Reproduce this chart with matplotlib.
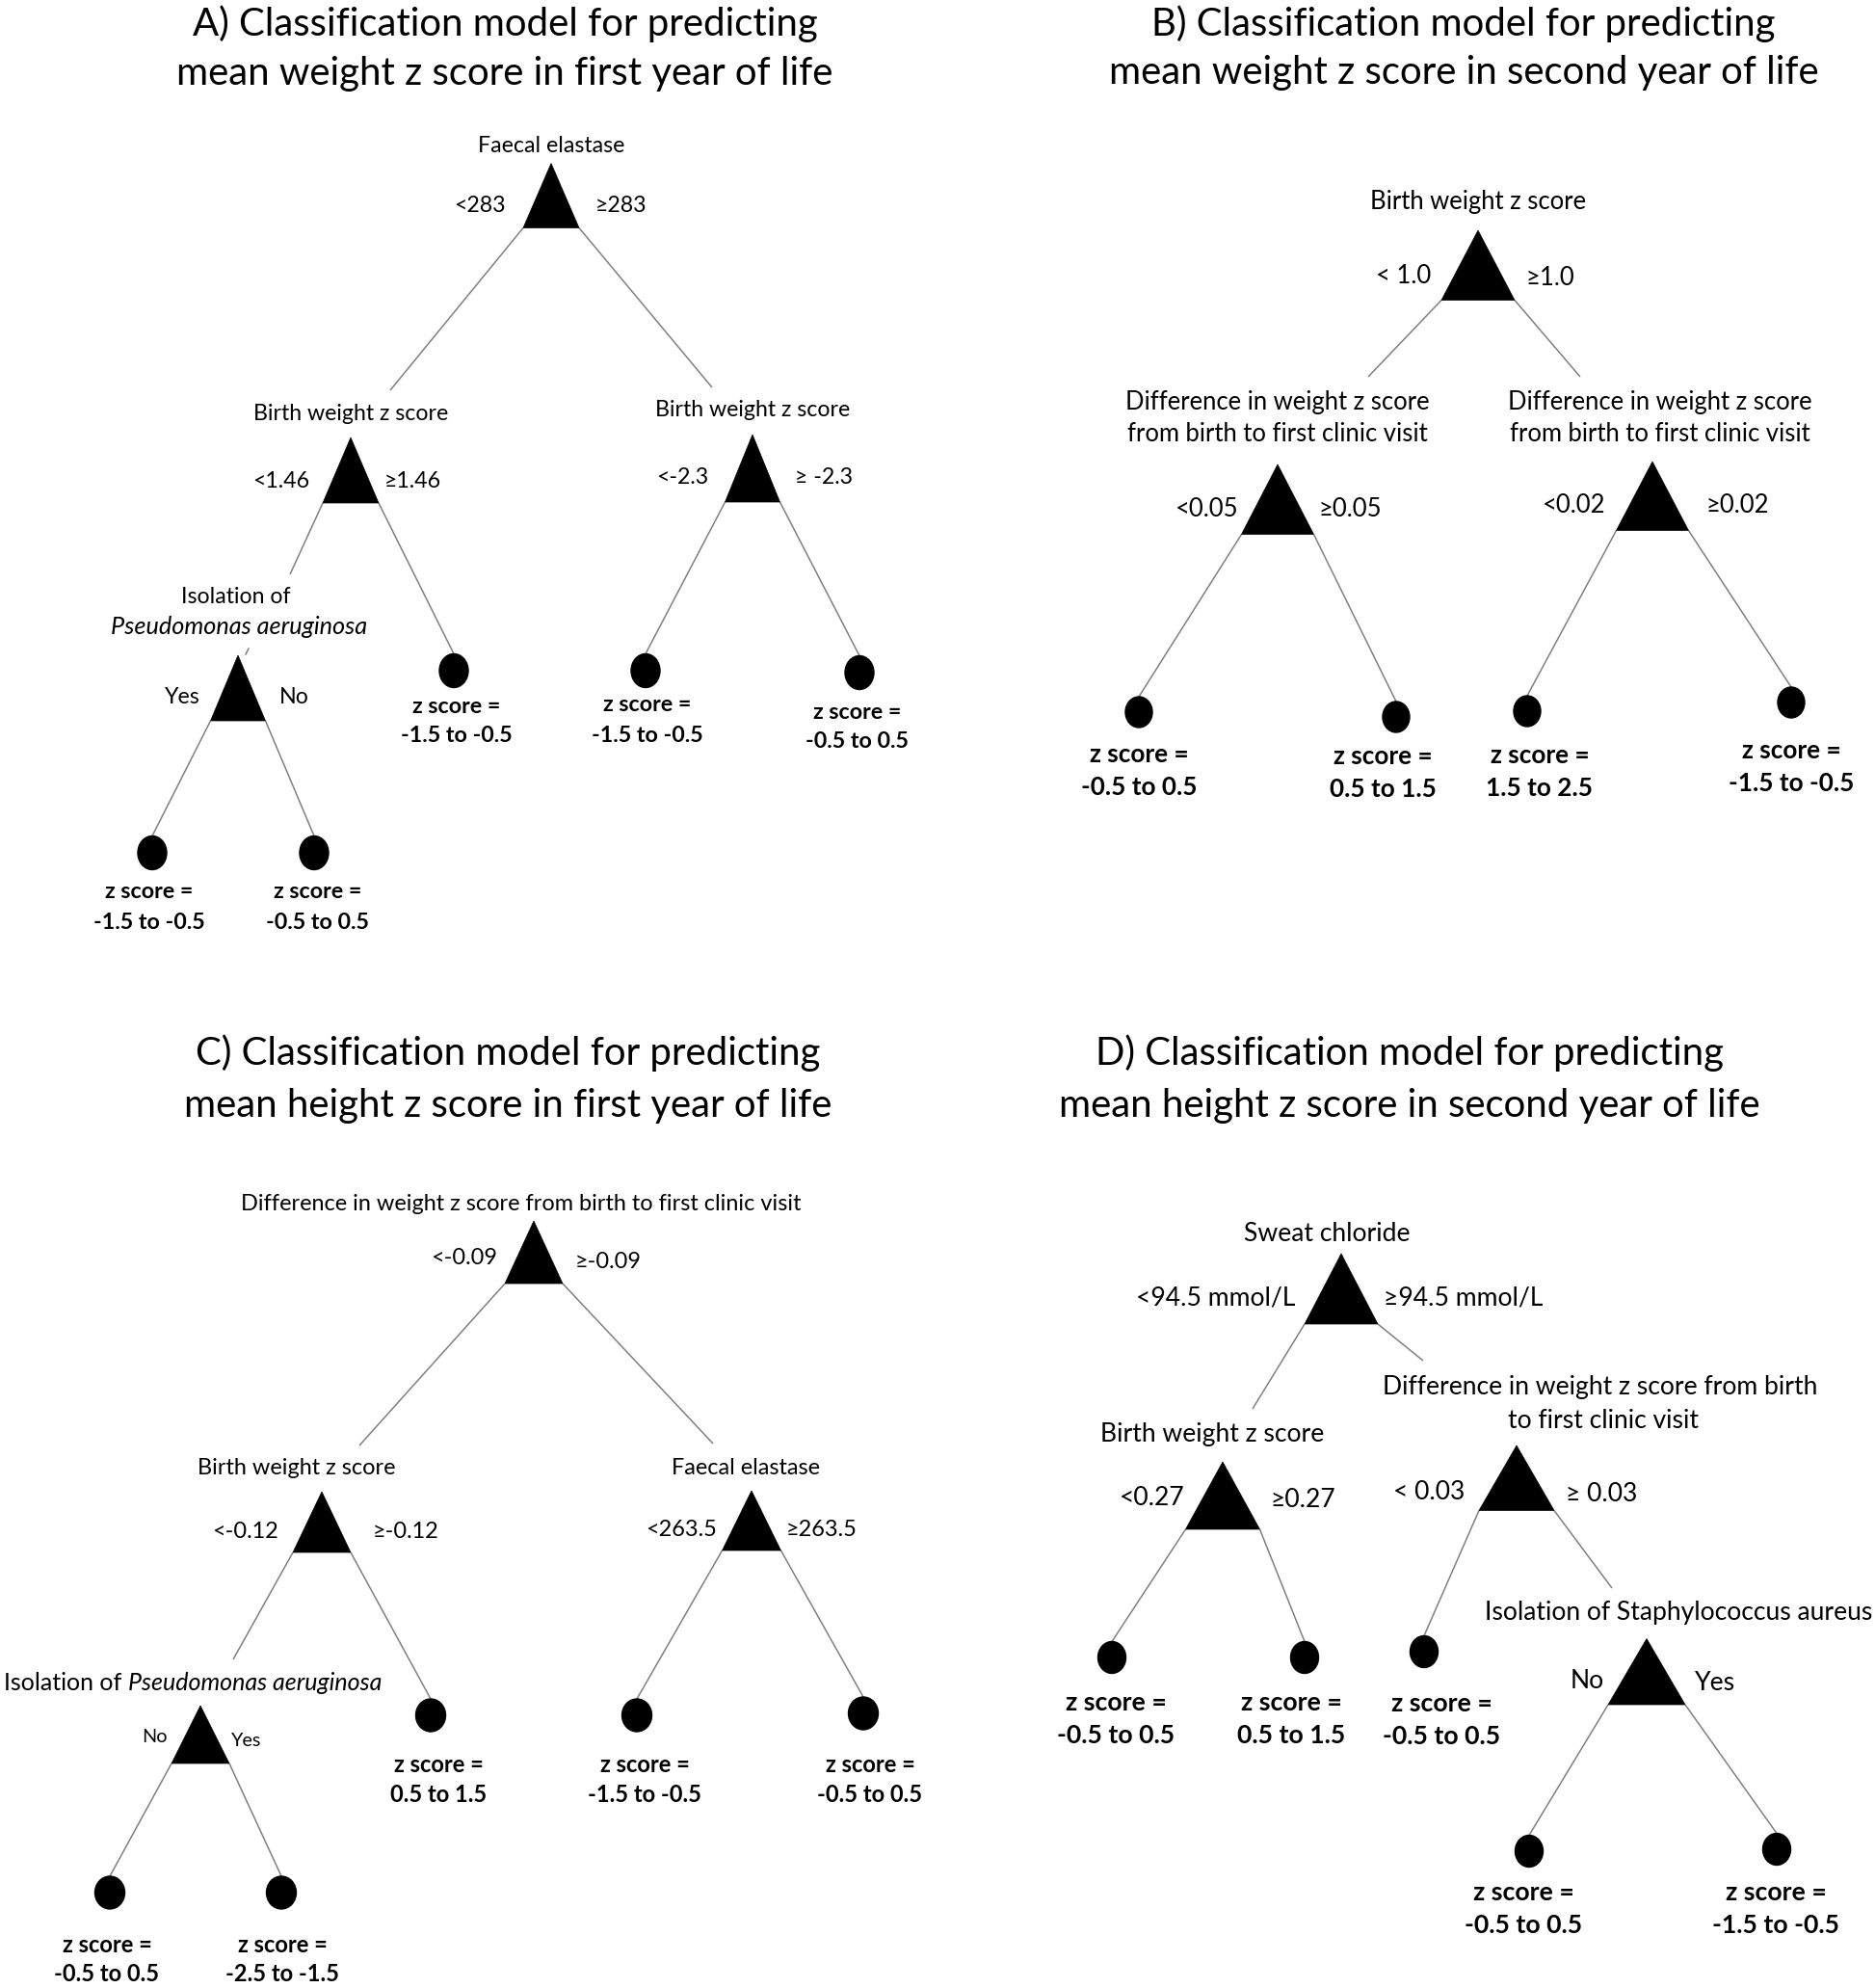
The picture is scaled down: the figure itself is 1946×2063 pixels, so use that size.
import matplotlib
matplotlib.use('Agg')
import matplotlib.pyplot as plt
from matplotlib.patches import Polygon, Ellipse

# ---------------- DATA ----------------
titles = [
    ["A) Classification model for predicting", "mean weight z score in first year of life"],
    ["B) Classification model for predicting", "mean weight z score in second year of life"],
    ["C) Classification model for predicting", "mean height z score in first year of life"],
    ["D) Classification model for predicting", "mean height z score in second year of life"],
]

A_split_names = ["Faecal elastase", "Birth weight z score", "Birth weight z score",
                 ["Isolation of", "Pseudomonas aeruginosa"]]
A_left_rules = ["<283", "<1.46", "<-2.3", "Yes"]
A_right_rules = ["≥283", "≥1.46", "≥ -2.3", "No"]
A_leaf_values = ["-1.5 to -0.5", "-1.5 to -0.5", "-0.5 to 0.5", "-1.5 to -0.5", "-0.5 to 0.5"]

B_split_names = ["Birth weight z score",
                 ["Difference in weight z score", "from birth to first clinic visit"],
                 ["Difference in weight z score", "from birth to first clinic visit"]]
B_left_rules = ["< 1.0", "<0.05", "<0.02"]
B_right_rules = ["≥1.0", "≥0.05", "≥0.02"]
B_leaf_values = ["-0.5 to 0.5", "0.5 to 1.5", "1.5 to 2.5", "-1.5 to -0.5"]

C_split_names = ["Difference in weight z score from birth to first clinic visit",
                 "Birth weight z score", "Faecal elastase",
                 "Isolation of |Pseudomonas aeruginosa"]
C_left_rules = ["<-0.09", "<-0.12", "<263.5", "No"]
C_right_rules = ["≥-0.09", "≥-0.12", "≥263.5", "Yes"]
C_leaf_values = ["0.5 to 1.5", "-1.5 to -0.5", "-0.5 to 0.5", "-0.5 to 0.5", "-2.5 to -1.5"]

D_split_names = ["Sweat chloride", "Birth weight z score",
                 ["Difference in weight z score from birth", "to first clinic visit"],
                 "Isolation of Staphylococcus aureus"]
D_left_rules = ["<94.5 mmol/L", "<0.27", "< 0.03", "No"]
D_right_rules = ["≥94.5 mmol/L", "≥0.27", "≥ 0.03", "Yes"]
D_leaf_values = ["-0.5 to 0.5", "0.5 to 1.5", "-0.5 to 0.5", "-0.5 to 0.5", "-1.5 to -0.5"]

LEAF_PREFIX = "z score ="

# ---------------- LAYOUT (pixel space) ----------------
W, H = 1946, 2063
FAM = ['Lato', 'DejaVu Sans']
LINE_C = '#808080'

fig = plt.figure(figsize=(W / 100, H / 100), dpi=100)
ax = fig.add_axes([0, 0, 1, 1])
ax.set_xlim(0, W)
ax.set_ylim(H, 0)
ax.axis('off')
renderer = fig.canvas.get_renderer()


def text_width(s, size, **kw):
    t = ax.text(0, 0, s, fontsize=size, family=FAM, **kw)
    w = t.get_window_extent(renderer).width
    t.remove()
    return w


def fit(text, target, **kw):
    return 20 * target / text_width(text, 20, **kw)


title_size = fit("A) Classification model for predicting", 650)
title_pos = [(524, 24.5, 76.5), (1519, 24.5, 75.5), (527, 1093, 1147), (1463, 1093, 1147)]

panels = {
    'A': dict(
        names=A_split_names, left=A_left_rules, right=A_right_rules, leaves=A_leaf_values,
        label_size=fit("Birth weight z score", 203),
        leaf_size=fit("-1.5 to -0.5", 116, weight='bold'),
        apex=[(572, 169.5), (364, 454), (781, 451), (247, 680)],
        tri_w=[58, 58, 57, 57], tri_h=[67, 68, 70, 68],
        name_xy=[[(572, 151)], [(364, 429)], [(781, 425)], [(245, 619), (248, 650)]],
        italic_lines={3: {1: 266}},
        left_xy=[(498, 213), (292, 499), (708, 496), (189, 724)],
        right_xy=[(644, 213), (428, 499), (855, 496), (305, 724)],
        entry=[None, (405, 405), (739, 402), (301, 596)],
        edges=[(0, 'L', 's', 1), (0, 'R', 's', 2), (1, 'L', 's', 3), (1, 'R', 'l', 0),
               (2, 'L', 'l', 1), (2, 'R', 'l', 2), (3, 'L', 'l', 3), (3, 'R', 'l', 4)],
        stubs=[((255, 679), (258, 673))],
        leaf_xy=[(471, 696), (670, 696), (892, 698), (158, 885), (326, 885)],
        leaf_wh=(30, 35),
        leaf_text=[(474, 734, 764), (672, 732, 763), (890, 740, 770), (155, 926, 957), (330, 926, 957)],
    ),
    'B': dict(
        names=B_split_names, left=B_left_rules, right=B_right_rules, leaves=B_leaf_values,
        label_size=fit("Difference in weight z score", 317),
        leaf_size=fit("-0.5 to 0.5", 121, weight='bold'),
        apex=[(1534, 239), (1326, 482), (1715, 479)],
        tri_w=[76, 75, 75], tri_h=[72.5, 72.5, 71.5],
        name_xy=[[(1534, 209)], [(1326, 418), (1326, 451)], [(1723, 418), (1723, 451)]],
        left_xy=[(1457, 286), (1253, 529), (1634, 524)],
        right_xy=[(1609, 288), (1401, 529), (1803, 525)],
        entry=[None, (1420, 391), (1640, 391)],
        edges=[(0, 'L', 's', 1), (0, 'R', 's', 2), (1, 'L', 'l', 0), (1, 'R', 'l', 1),
               (2, 'L', 'l', 2), (2, 'R', 'l', 3)],
        leaf_xy=[(1182, 739), (1449, 744), (1585, 738), (1859, 729)],
        leaf_wh=(28, 32),
        leaf_text=[(1182, 783, 817), (1435, 785, 819), (1598, 784, 818), (1859, 779, 813)],
    ),
    'C': dict(
        names=C_split_names, left=C_left_rules, right=C_right_rules, leaves=C_leaf_values,
        label_size=fit("Difference in weight z score from birth to first clinic visit", 582),
        leaf_size=fit("-1.5 to -0.5", 118, weight='bold'),
        apex=[(554, 1267), (334, 1548), (780, 1547), (208, 1770)],
        tri_w=[60, 60, 61, 60], tri_h=[65, 63, 62, 60],
        name_xy=[[(541, 1250)], [(308, 1523.5)], [(774, 1523.5)], [(200, 1747)]],
        mixed_width={3: 394},
        left_xy=[(482, 1306), (255, 1589), (707, 1588), (160, 1802)],
        right_xy=[(631, 1309.5), (421, 1589), (853, 1588), (256, 1806)],
        entry=[None, (373, 1500), (740, 1498), (242, 1722)],
        edges=[(0, 'L', 's', 1), (0, 'R', 's', 2), (1, 'L', 's', 3), (1, 'R', 'l', 0),
               (2, 'L', 'l', 1), (2, 'R', 'l', 2), (3, 'L', 'l', 3), (3, 'R', 'l', 4)],
        leaf_xy=[(447, 1780), (661, 1780), (896, 1778), (114, 1964), (292, 1964)],
        leaf_wh=(31, 34),
        leaf_text=[(455, 1831.5, 1862), (669, 1831.5, 1862), (903, 1831.5, 1862),
                   (111, 2018, 2048), (293, 2018, 2048)],
        small_rules=[3],
    ),
    'D': dict(
        names=D_split_names, left=D_left_rules, right=D_right_rules, leaves=D_leaf_values,
        label_size=fit("Difference in weight z score from birth", 452),
        leaf_size=fit("-0.5 to 0.5", 123, weight='bold'),
        apex=[(1392, 1301), (1269, 1517), (1574, 1500), (1709, 1700.5)],
        tri_w=[76, 77, 78, 80], tri_h=[73, 70, 67.5, 68.5],
        name_xy=[[(1377, 1281)], [(1258, 1488.5)], [(1661, 1439), (1664, 1474)], [(1742, 1673)]],
        left_xy=[(1262, 1347.5), (1196, 1555), (1483, 1549), (1647, 1744)],
        right_xy=[(1519, 1347.5), (1352, 1557), (1662, 1551), (1780, 1747)],
        entry=[None, (1300, 1462), (1477, 1412), (1673, 1648)],
        edges=[(0, 'L', 's', 1), (0, 'R', 's', 2), (1, 'L', 'l', 0), (1, 'R', 'l', 1),
               (2, 'L', 'l', 2), (2, 'R', 's', 3), (3, 'L', 'l', 3), (3, 'R', 'l', 4)],
        leaf_xy=[(1154, 1720), (1354, 1720), (1478, 1714), (1587, 1921), (1844, 1919)],
        leaf_wh=(29, 33),
        leaf_text=[(1158, 1767, 1801), (1340, 1767, 1801), (1496, 1768, 1802),
                   (1581, 1964, 1998), (1843, 1964, 1998)],
    ),
}

# ---------------- DRAW ----------------
for (lines, (tx, ty1, ty2)) in zip(titles, title_pos):
    ax.text(tx, ty1, lines[0], fontsize=title_size, family=FAM, ha='center', va='center')
    ax.text(tx, ty2, lines[1], fontsize=title_size, family=FAM, ha='center', va='center')

for key, p in panels.items():
    ls = p['label_size']
    # edges first (under nodes)
    for (pi, side, ctype, ci) in p['edges']:
        ax_, ay_ = p['apex'][pi]
        hw = p['tri_w'][pi] / 2
        by = ay_ + p['tri_h'][pi]
        x0 = ax_ - hw if side == 'L' else ax_ + hw
        if ctype == 's':
            x1, y1 = p['entry'][ci]
        else:
            lx, ly = p['leaf_xy'][ci]
            x1, y1 = lx, ly - p['leaf_wh'][1] / 2
        ax.plot([x0, x1], [by, y1], color=LINE_C, lw=1.1, solid_capstyle='butt', zorder=1)
    for (s0, s1) in p.get('stubs', []):
        ax.plot([s0[0], s1[0]], [s0[1], s1[1]], color=LINE_C, lw=1.1, zorder=1)

    # split nodes
    for i, name in enumerate(p['names']):
        ax_, ay_ = p['apex'][i]
        hw = p['tri_w'][i] / 2
        th = p['tri_h'][i]
        ax.add_patch(Polygon([(ax_, ay_), (ax_ - hw, ay_ + th), (ax_ + hw, ay_ + th)],
                             closed=True, facecolor='black', edgecolor='black', lw=0.5, zorder=2))
        if isinstance(name, list):
            ital = p.get('italic_lines', {}).get(i, {})
            for j, (s, (nx, ny)) in enumerate(zip(name, p['name_xy'][i])):
                if j in ital:
                    sz = fit(s, ital[j], style='italic')
                    ax.text(nx, ny, s, fontsize=sz, family=FAM, ha='center', va='center',
                            style='italic')
                else:
                    ax.text(nx, ny, s, fontsize=ls, family=FAM, ha='center', va='center')
        elif '|' in name:
            a, b = name.split('|')
            nx, ny = p['name_xy'][i][0]
            wa = text_width(a, ls)
            wb = text_width(b, ls, style='italic')
            sz = ls * p.get('mixed_width', {}).get(i, wa + wb) / (wa + wb)
            wa = text_width(a, sz)
            wb = text_width(b, sz, style='italic')
            x_start = nx - (wa + wb) / 2
            ax.text(x_start, ny, a, fontsize=sz, family=FAM, ha='left', va='center')
            ax.text(x_start + wa, ny, b, fontsize=sz, family=FAM, style='italic', ha='left', va='center')
        else:
            nx, ny = p['name_xy'][i][0]
            ax.text(nx, ny, name, fontsize=ls, family=FAM, ha='center', va='center')
        rs = ls * 0.85 if i in p.get('small_rules', []) else ls
        lx, ly = p['left_xy'][i]
        rx, ry = p['right_xy'][i]
        ax.text(lx, ly, p['left'][i], fontsize=rs, family=FAM, ha='center', va='center')
        ax.text(rx, ry, p['right'][i], fontsize=rs, family=FAM, ha='center', va='center')

    # leaves
    lw_, lh_ = p['leaf_wh']
    for (cx, cy), val, (tx, ty1, ty2) in zip(p['leaf_xy'], p['leaves'], p['leaf_text']):
        ax.add_patch(Ellipse((cx, cy), lw_, lh_, facecolor='black', edgecolor='black', zorder=2))
        ax.text(tx, ty1, LEAF_PREFIX, fontsize=p['leaf_size'], family=FAM, weight='bold',
                ha='center', va='center')
        ax.text(tx, ty2, val, fontsize=p['leaf_size'], family=FAM, weight='bold',
                ha='center', va='center')

fig.savefig('out.png', dpi=100, facecolor='white')
